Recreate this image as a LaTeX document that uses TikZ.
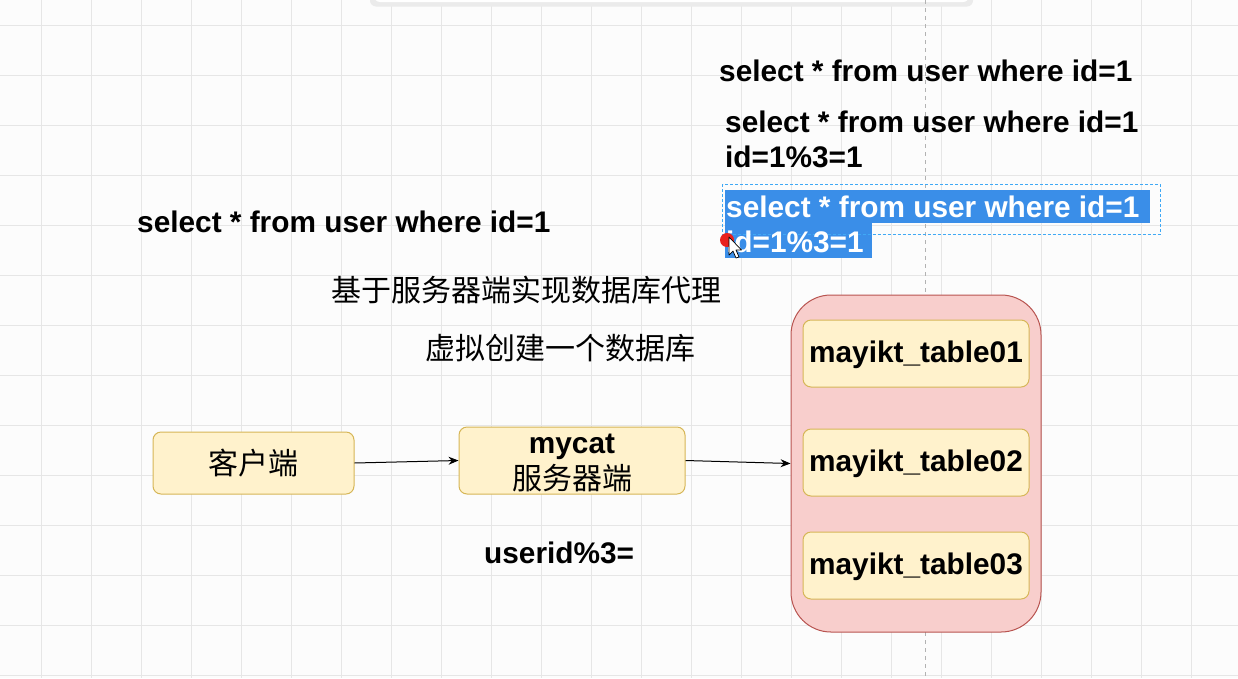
\documentclass[tikz,border=0pt]{standalone}
\usepackage{fontspec}
\setmainfont{Liberation Sans}
\newfontfamily\cjk{Noto Sans CJK SC}
\usetikzlibrary{arrows.meta}
\definecolor{gridc}{HTML}{E6E6E6}
\definecolor{bgc}{HTML}{FCFCFC}
\definecolor{yfill}{HTML}{FFF2CC}
\definecolor{ydraw}{HTML}{D6B656}
\definecolor{rfill}{HTML}{F8CECC}
\definecolor{rdraw}{HTML}{B85450}
\definecolor{hlblue}{HTML}{3A8EE8}
\definecolor{selc}{HTML}{3FA9F5}
\definecolor{dotred}{HTML}{E8221E}
\tikzset{
  lat/.style={font=\fontsize{29.8}{35}\selectfont\bfseries, inner sep=0pt},
  cn/.style={font=\fontsize{30}{36}\selectfont\cjk, inner sep=0pt},
  ybox/.style={draw=ydraw, fill=yfill, line width=1pt, rounded corners=8pt, inner sep=0pt},
  conn/.style={-{Stealth[length=10pt,width=8pt]}, line width=1pt, black},
}
\begin{document}
\begin{tikzpicture}[x=1pt,y=-1pt]
\useasboundingbox (0,0) rectangle (1238,678);
\fill[bgc] (0,0) rectangle (1238,678);
% grid
\foreach \gx in {41.7,91.7,...,1240} {\draw[gridc, line width=1pt] (\gx,0) -- (\gx,678);}
\foreach \gy in {25,75,...,680} {\draw[gridc, line width=1pt] (0,\gy) -- (1238,\gy);}
% top panel edge with shadow
\fill[black!15, rounded corners=6pt] (372,-20) rectangle (971,4.5);
\fill[black!8, rounded corners=6pt] (370,-20) rectangle (973,6.5);
\fill[white, rounded corners=6pt] (374,-20) rectangle (969,2);
% dashed guide line
\draw[gray!60, line width=1pt, dash pattern=on 4pt off 4pt] (925,0) -- (925,678);

% SQL texts
\node[lat, anchor=base west] (q1) at (719,81) {select * from user where id=1};
\node[lat, anchor=base west] (q2a) at (725,132) {select * from user where id=1};
\node[lat, anchor=base west] (q2b) at (725,167) {id=1\%3=1};
% highlighted text
\fill[hlblue] (725,190) rectangle (1150,223);
\fill[hlblue] (725,223) rectangle (872,258);
\draw[selc, line width=0.8pt, dash pattern=on 3pt off 2pt] (722.5,184) rectangle (1160,234);
\node[lat, anchor=base west, text=white] (q3a) at (726,217) {select * from user where id=1};
\node[lat, anchor=base west, text=white] (q3b) at (726,252) {id=1\%3=1};
% cursor
\fill[dotred] (727,240) circle (7);
\draw[black, fill=white, line width=0.7pt, line join=round]
  (729,237) -- (729,255) -- (733,251) -- (736,258) -- (739,257) -- (736,250) -- (741.5,250) -- cycle;

\node[lat, anchor=base west] (q4) at (137,232) {select * from user where id=1};
\node[cn, anchor=base west] (t1) at (331,301) {基于服务器端实现数据库代理};
\node[cn, anchor=base west] (t2) at (425,359) {虚拟创建一个数据库};

% boxes
\node[ybox, minimum width=201pt, minimum height=62pt, cn] (client) at (253.5,463) {客户端};
\node[ybox, minimum width=226pt, minimum height=67pt] (mycat) at (572,460.5) {};
\node[lat, anchor=base] (mycatname) at (572,453) {mycat};
\node[cn, anchor=base] (mycatsub) at (572,489) {服务器端};
\node[lat, anchor=base west] (mod) at (484,563) {userid\%3=};

% container
\node[draw=rdraw, fill=rfill, line width=1pt, rounded corners=40pt, minimum width=250pt, minimum height=337pt, inner sep=0pt] (db) at (916,463.5) {};
\tikzset{tbl/.style={ybox, lat, minimum width=226pt, minimum height=67pt, text height=21pt, text depth=3pt}}
\node[tbl] (tb1) at (916,353.5) {mayikt\_table01};
\node[tbl] (tb2) at (916,462.5) {mayikt\_table02};
\node[tbl] (tb3) at (916,565.5) {mayikt\_table03};

% connectors
\draw[conn] (client.east) -- (mycat.west);
\draw[conn] (mycat.east) -- (db.west);
\end{tikzpicture}
\end{document}
